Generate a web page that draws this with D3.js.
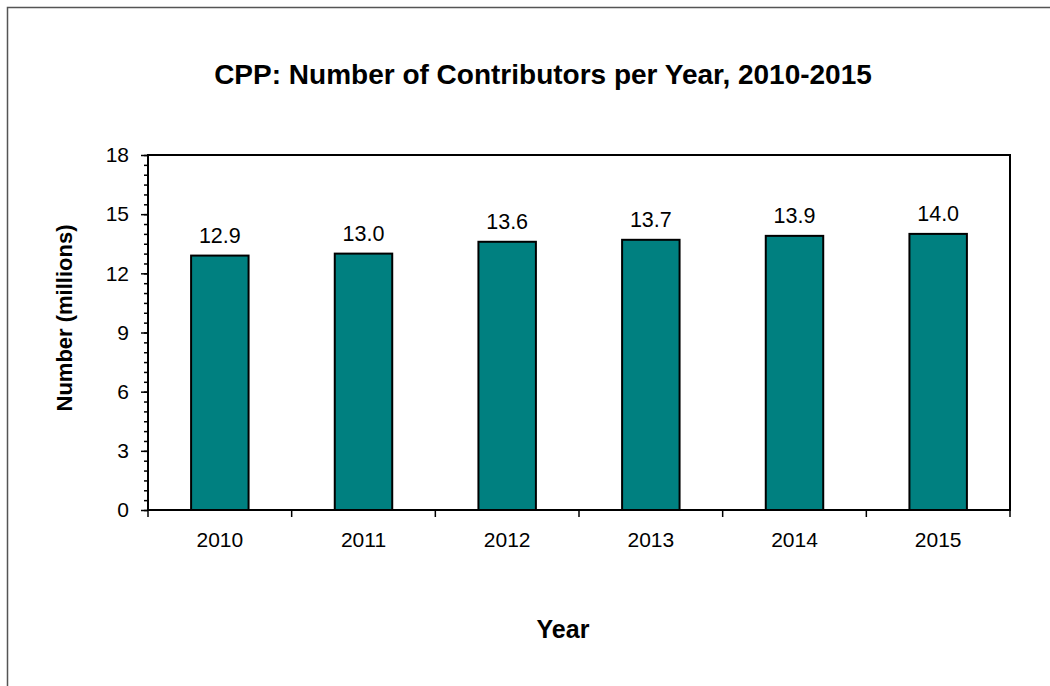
<!DOCTYPE html>
<html>
<head>
<meta charset="utf-8">
<script src="https://cdn.jsdelivr.net/npm/d3@7"></script>
<style>
  body { margin: 0; background: #fff; }
  text { font-family: "Liberation Sans", Arial, sans-serif; }
</style>
</head>
<body>
<div id="holder"></div>
<script>
// chart data
var years = ["2010", "2011", "2012", "2013", "2014", "2015"];
var contributors = [12.9, 13.0, 13.6, 13.7, 13.9, 14.0];
var yTicks = [0, 3, 6, 9, 12, 15, 18];

var W = 1050, H = 686;
var margin = {top: 155, left: 148},
    width = 1010 - margin.left,
    height = 510 - margin.top;

var svg = d3.select("#holder")
            .append("svg")
            .attr("width", W)
            .attr("height", H);

// outer frame
svg.append("rect")
   .attr("x", 7.5).attr("y", 7.5)
   .attr("width", W + 10).attr("height", H + 10)
   .attr("fill", "none")
   .attr("stroke", "#555")
   .attr("stroke-width", 1.5);

var g = svg.append("g")
           .attr("transform", "translate(" + margin.left + "," + margin.top + ")");

var x = d3.scaleBand()
          .domain(years)
          .range([0, width])
          .paddingInner(0.6)
          .paddingOuter(0.3);

var xEdge = d3.scaleLinear().domain([0, years.length]).range([0, width]);

var y = d3.scaleLinear()
          .domain([0, 18])
          .range([height, 0]);

// plot area border
g.append("rect")
 .attr("width", width).attr("height", height)
 .attr("fill", "none")
 .attr("stroke", "#000")
 .attr("stroke-width", 2);

// minor ticks on y
g.append("g")
 .call(d3.axisLeft(y).tickValues(d3.range(0, 18.01, 0.5)).tickSize(4).tickFormat(""))
 .call(a => a.select(".domain").remove())
 .selectAll("line").attr("stroke-width", 1.5).attr("x2", 0).attr("x1", -4);

// major ticks on y
var yAxis = g.append("g")
 .call(d3.axisLeft(y).tickValues(yTicks).tickSize(7).tickPadding(12));
yAxis.select(".domain").remove();
yAxis.selectAll("line").attr("stroke-width", 1.5);
yAxis.selectAll("text")
     .attr("font-size", 21)
     .attr("font-family", "Liberation Sans, Arial, sans-serif")
     .attr("fill", "#000");

// x ticks at category edges
g.append("g")
 .attr("transform", "translate(0," + height + ")")
 .selectAll("line")
 .data(d3.range(years.length + 1))
 .enter()
 .append("line")
 .attr("x1", d => xEdge(d)).attr("x2", d => xEdge(d))
 .attr("y1", 0).attr("y2", 7)
 .attr("stroke", "#000").attr("stroke-width", 1.5);

// x labels
g.append("g")
 .selectAll("text")
 .data(years)
 .enter()
 .append("text")
 .attr("x", d => x(d) + x.bandwidth() / 2)
 .attr("y", height + 37)
 .attr("text-anchor", "middle")
 .attr("font-size", 21)
 .text(d => d);

// bars
g.append("g")
 .selectAll("rect")
 .data(contributors)
 .enter()
 .append("rect")
 .attr("x", (d, i) => x(years[i]))
 .attr("y", d => y(d))
 .attr("width", x.bandwidth())
 .attr("height", d => height - y(d))
 .attr("fill", "#008080")
 .attr("stroke", "#000")
 .attr("stroke-width", 2);

// value labels
g.append("g")
 .selectAll("text")
 .data(contributors)
 .enter()
 .append("text")
 .attr("x", (d, i) => x(years[i]) + x.bandwidth() / 2)
 .attr("y", d => y(d) - 13)
 .attr("text-anchor", "middle")
 .attr("font-size", 21.5)
 .text(d => d.toFixed(1));

// title
svg.append("text")
   .attr("x", 543).attr("y", 84)
   .attr("text-anchor", "middle")
   .attr("font-size", 28)
   .attr("font-weight", "bold")
   .text("CPP: Number of Contributors per Year, 2010-2015");

// axis titles
svg.append("text")
   .attr("transform", "translate(72,318) rotate(-90)")
   .attr("text-anchor", "middle")
   .attr("font-size", 22)
   .attr("font-weight", "bold")
   .text("Number (millions)");

svg.append("text")
   .attr("x", 563).attr("y", 638)
   .attr("text-anchor", "middle")
   .attr("font-size", 25)
   .attr("font-weight", "bold")
   .text("Year");
</script>
</body>
</html>
